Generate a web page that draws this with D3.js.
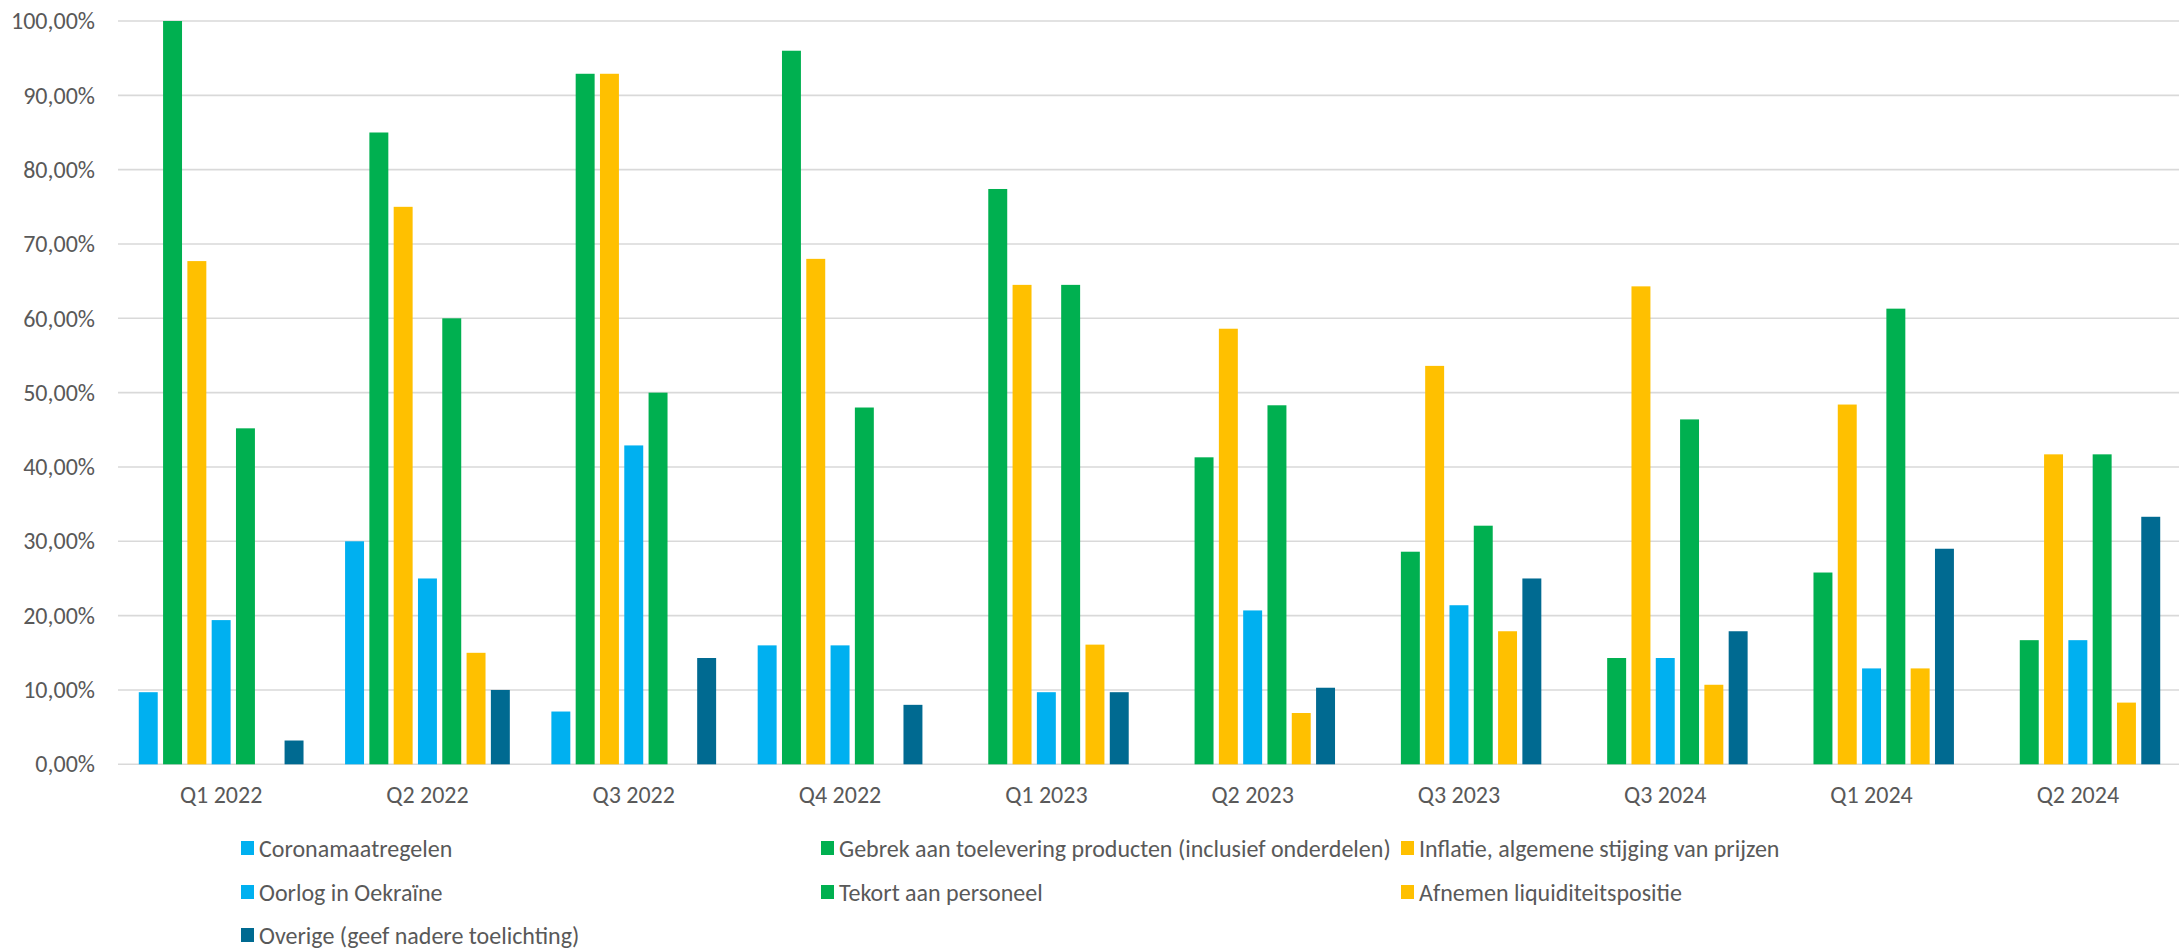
<!DOCTYPE html>
<html>
<head>
<meta charset="utf-8">
<script src="https://cdn.jsdelivr.net/npm/d3@7"></script>
<style>
  html, body { margin: 0; padding: 0; background: #ffffff; }
  svg { display: block; }
  text { font-family: Carlito, "Open Sans", "Noto Sans", sans-serif; fill: #595959; }
</style>
</head>
<body>
<svg id="chart" width="2179" height="950"></svg>
<script>
const categories = ["Q1 2022","Q2 2022","Q3 2022","Q4 2022","Q1 2023","Q2 2023","Q3 2023","Q3 2024","Q1 2024","Q2 2024"];
const seriesNames = [
  "Coronamaatregelen",
  "Gebrek aan toelevering producten (inclusief onderdelen)",
  "Inflatie, algemene stijging van prijzen",
  "Oorlog in Oekraïne",
  "Tekort aan personeel",
  "Afnemen liquiditeitspositie",
  "Overige (geef nadere toelichting)"
];
const seriesColors = ["#00B0F0","#00B050","#FFC000","#00B0F0","#00B050","#FFC000","#006A91"];
const corona   = [9.7, 30.0, 7.1, 16.0, 0, 0, 0, 0, 0, 0];
const gebrek   = [100.0, 85.0, 92.9, 96.0, 77.4, 41.3, 28.6, 14.3, 25.8, 16.7];
const inflatie = [67.7, 75.0, 92.9, 68.0, 64.5, 58.6, 53.6, 64.3, 48.4, 41.7];
const oorlog   = [19.4, 25.0, 42.9, 16.0, 9.7, 20.7, 21.4, 14.3, 12.9, 16.7];
const tekort   = [45.2, 60.0, 50.0, 48.0, 64.5, 48.3, 32.1, 46.4, 61.3, 41.7];
const afnemen  = [0, 15.0, 0, 0, 16.1, 6.9, 17.9, 10.7, 12.9, 8.3];
const overige  = [3.2, 10.0, 14.3, 8.0, 9.7, 10.3, 25.0, 17.9, 29.0, 33.3];
const yTicks = [0,10,20,30,40,50,60,70,80,90,100];

const seriesValues = [corona, gebrek, inflatie, oorlog, tekort, afnemen, overige];

const FONT = 'Carlito, "Open Sans", "Noto Sans", sans-serif';
const svg = d3.select("#chart");
const plotLeft = 118, plotRight = 2181, gridRight = 2179;
const y = d3.scaleLinear().domain([0, 100]).range([764.3, 21]);
const x0 = d3.scaleBand().domain(categories).range([plotLeft, plotRight]).paddingInner(0).paddingOuter(0);
const bw = x0.bandwidth();
const groupW = bw * 0.8245;
const x1 = d3.scaleBand().domain(d3.range(seriesNames.length))
  .range([(bw - groupW) / 2, (bw + groupW) / 2]).paddingInner(0.22).paddingOuter(0.11);

// gridlines
svg.append("g").selectAll("line").data(yTicks).join("line")
  .attr("x1", plotLeft).attr("x2", gridRight)
  .attr("y1", d => y(d)).attr("y2", d => y(d))
  .attr("stroke", "#d9d9d9").attr("stroke-width", 1.6);

// y axis labels
const fmt = d => d3.format(".2f")(d).replace(".", ",") + "%";
const yAxis = d3.axisLeft(y).tickValues(yTicks).tickFormat(fmt).tickSize(0).tickPadding(0);
const gy = svg.append("g").attr("transform", `translate(95,0)`).call(yAxis);
gy.select(".domain").remove();
gy.selectAll("text").attr("font-size", 24).attr("fill", "#595959").style("font-family", FONT);

// bars
const groups = svg.append("g").selectAll("g").data(categories).join("g")
  .attr("transform", d => `translate(${x0(d)},0)`);
groups.selectAll("rect")
  .data((c, ci) => seriesValues.map((vals, si) => ({ si, v: vals[ci] })).filter(d => d.v > 0))
  .join("rect")
  .attr("x", d => x1(d.si))
  .attr("width", x1.bandwidth())
  .attr("y", d => y(d.v))
  .attr("height", d => y(0) - y(d.v))
  .attr("fill", d => seriesColors[d.si]);

// x axis labels
const xAxis = d3.axisBottom(x0).tickSize(0).tickPadding(0);
const gx = svg.append("g").attr("transform", `translate(0,803)`).call(xAxis);
gx.select(".domain").remove();
gx.selectAll("text").attr("y", 0).attr("dy", 0).attr("font-size", 24).attr("fill", "#595959")
  .style("font-family", FONT);

// legend
const legCols = [241, 821, 1401];
const legRows = [848, 892, 935];
const leg = svg.append("g").selectAll("g").data(seriesNames).join("g")
  .attr("transform", (d, i) => `translate(${legCols[i % 3]},${legRows[Math.floor(i / 3)]})`);
leg.append("rect").attr("x", 0).attr("y", -7).attr("width", 13).attr("height", 14)
  .attr("fill", (d, i) => seriesColors[i]);
leg.append("text").attr("x", 18).attr("y", 0).attr("dominant-baseline", "central")
  .attr("font-size", 24).text(d => d);
</script>
</body>
</html>
